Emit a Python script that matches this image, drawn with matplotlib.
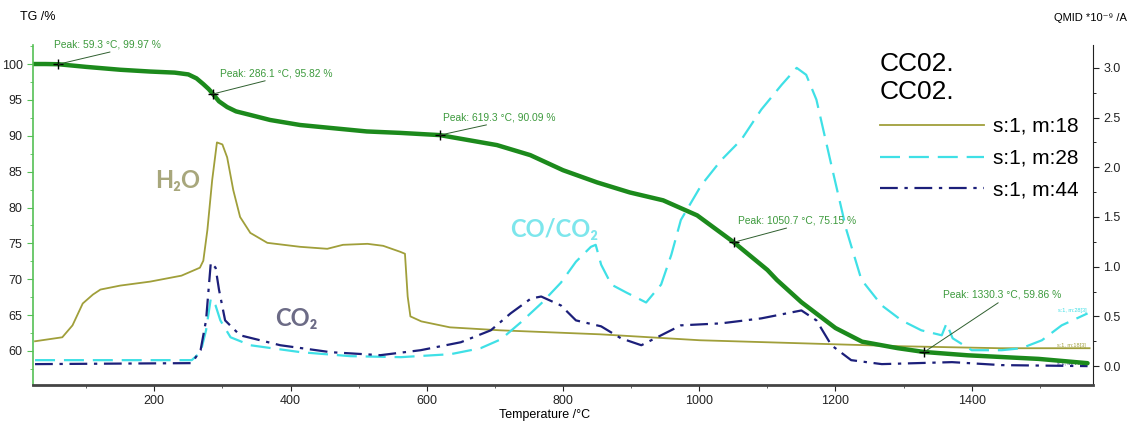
import matplotlib
matplotlib.use("Agg")
import matplotlib.pyplot as plt
from matplotlib.ticker import MultipleLocator

NARROW = ["Liberation Sans Narrow", "Liberation Sans", "DejaVu Sans"]
plt.rcParams["font.family"] = NARROW

# ---- data -------------------------------------------------------------
# TG curve (left axis, %)
tg_T = [22, 40, 59.3, 100, 150, 194, 230, 250, 262, 272, 280, 286.1, 295, 307, 320, 341, 370,
        414, 512, 561, 619.3, 703, 752, 800, 850, 898, 947, 997, 1050.7, 1100, 1114, 1150,
        1200, 1239, 1291, 1330.3, 1394, 1498, 1570]
tg = [100.0, 100.0, 99.97, 99.6, 99.2, 98.95, 98.8, 98.55, 98.0, 97.2, 96.5, 95.82, 94.8, 94.0,
      93.4, 92.9, 92.2, 91.5, 90.6, 90.4, 90.09, 88.7, 87.3, 85.2, 83.5, 82.1, 81.0, 78.9, 75.15,
      71.3, 69.9, 66.8, 63.2, 61.3, 60.4, 59.86, 59.4, 58.9, 58.3]

peak_T = [59.3, 286.1, 619.3, 1050.7, 1330.3]
peak_tg = [99.97, 95.82, 90.09, 75.15, 59.86]

# QMID signals (right axis, 1e-9 A)
m18_T = [25, 45, 65, 80, 95, 110, 121, 150, 194, 240, 267, 272, 278, 285, 292, 300, 307, 316,
         326, 341, 366, 414, 454, 477, 513, 536, 561, 568, 572, 576, 592, 634, 708, 854, 1001,
         1148, 1295, 1441, 1573]
m18 = [0.25, 0.27, 0.29, 0.41, 0.63, 0.72, 0.77, 0.81, 0.85, 0.91, 0.99, 1.06, 1.37, 1.87, 2.25,
       2.23, 2.10, 1.77, 1.50, 1.34, 1.24, 1.20, 1.18, 1.22, 1.23, 1.21, 1.15, 1.13, 0.70, 0.50,
       0.45, 0.39, 0.36, 0.32, 0.26, 0.23, 0.20, 0.18, 0.18]

m28_T = [25, 255, 268, 276, 283, 290, 297, 312, 341, 415, 488, 562, 635, 679, 709, 738, 768, 797,
         819, 841, 848, 856, 871, 893, 922, 944, 959, 973, 1003, 1032, 1062, 1091, 1121, 1143,
         1157, 1172, 1194, 1216, 1238, 1268, 1297, 1326, 1356, 1363, 1372, 1400, 1444, 1473,
         1503, 1532, 1570]
m28 = [0.06, 0.06, 0.14, 0.36, 0.68, 0.61, 0.46, 0.29, 0.21, 0.14, 0.10, 0.09, 0.12, 0.18, 0.27,
       0.44, 0.63, 0.84, 1.05, 1.20, 1.22, 1.02, 0.82, 0.74, 0.64, 0.82, 1.12, 1.47, 1.82, 2.07,
       2.28, 2.58, 2.83, 3.00, 2.93, 2.68, 2.02, 1.37, 0.87, 0.61, 0.46, 0.36, 0.31, 0.43, 0.28,
       0.16, 0.16, 0.18, 0.26, 0.41, 0.53]

m44_T = [25, 255, 268, 276, 283, 290, 295, 304, 326, 385, 459, 532, 591, 650, 694, 723, 753, 768,
         797, 819, 856, 885, 915, 944, 973, 1032, 1091, 1150, 1172, 1194, 1223, 1268, 1371, 1444,
         1570]
m44 = [0.02, 0.03, 0.16, 0.46, 1.04, 0.99, 0.77, 0.46, 0.31, 0.21, 0.14, 0.11, 0.16, 0.24, 0.36,
       0.53, 0.68, 0.70, 0.61, 0.46, 0.40, 0.28, 0.21, 0.31, 0.41, 0.43, 0.48, 0.56, 0.46, 0.21,
       0.06, 0.02, 0.04, 0.01, 0.0]

series_labels = ["s:1, m:18", "s:1, m:28", "s:1, m:44"]

# ---- figure -----------------------------------------------------------
fig = plt.figure(figsize=(11.31, 4.21), dpi=100)
ax = fig.add_axes([33 / 1131, 36 / 421, 1060 / 1131, 340 / 421])
ax2 = ax.twinx()
ax.set_zorder(ax2.get_zorder() + 1)
ax.patch.set_visible(False)

c18, c28, c44, ctg = "#a09f3a", "#3fe0e6", "#1c1f7a", "#1c8a1c"
l18, = ax2.plot(m18_T, m18, color=c18, lw=1.3)
l28, = ax2.plot(m28_T, m28, color=c28, lw=1.6, ls=(0, (9, 4)))
l44, = ax2.plot(m44_T, m44, color=c44, lw=1.6, ls=(0, (8, 3, 1.5, 3)))

ax.plot(tg_T, tg, color=ctg, lw=3.2, solid_capstyle="round", solid_joinstyle="round")
ax.plot(peak_T, peak_tg, "+", color="k", ms=7, mew=1.0)

# peak annotations: (dx, dy) in pixels from the marker, relpos of line on text
offsets = [(-4, 15, 0.63), (7, 16, 0.5), (3, 13, 0.5), (4, 17, 0.5), (19, 52, 0.5)]
for T, v, (dx, dy, rp) in zip(peak_T, peak_tg, offsets):
    ax.annotate("Peak: %.1f °C, %.2f %%" % (T, v), xy=(T, v), xytext=(dx, dy),
                textcoords="offset pixels", ha="left", va="bottom", fontsize=7.4,
                color="#3d9a3d",
                arrowprops=dict(arrowstyle="-", color="#2f5f2f", lw=0.7,
                                relpos=(rp, 0), shrinkA=0, shrinkB=0))

# axes ranges / ticks
ax.set_xlim(22, 1578)
ax.set_ylim(55.26, 102.65)
ax2.set_ylim(-0.19, 3.23)
ax.set_xticks([200, 400, 600, 800, 1000, 1200, 1400])
ax.xaxis.set_minor_locator(MultipleLocator(100))
ax.set_yticks([60, 65, 70, 75, 80, 85, 90, 95, 100])
ax.yaxis.set_minor_locator(MultipleLocator(2.5))
ax2.set_yticks([0.0, 0.5, 1.0, 1.5, 2.0, 2.5, 3.0])
ax2.yaxis.set_minor_locator(MultipleLocator(0.25))
ax2.set_yticklabels(["0.0", "0.5", "1.0", "1.5", "2.0", "2.5", "3.0"])

for a in (ax, ax2):
    a.spines["top"].set_visible(False)
ax.spines["left"].set_color("#55c055")
ax.spines["left"].set_linewidth(1.2)
ax2.spines["left"].set_visible(False)
ax.spines["right"].set_visible(False)
ax2.spines["right"].set_color("#222222")
ax2.spines["bottom"].set_visible(False)
ax.spines["bottom"].set_color("#444444")
ax.spines["bottom"].set_linewidth(2)

ax.tick_params(axis="both", which="major", labelsize=9, colors="#222222", length=4, width=0.8)
ax.tick_params(axis="both", which="minor", length=2, width=0.6, colors="#444444")
ax.tick_params(axis="y", which="both", colors="#55c055", labelcolor="#222222")
ax2.tick_params(axis="y", which="major", labelsize=9, length=4, width=0.8, colors="#222222")
ax2.tick_params(axis="y", which="minor", length=2, width=0.6)

ax.set_xlabel("Temperature /°C", fontsize=9)
ax.xaxis.set_label_coords(0.483, -0.07)
fig.text(20 / 1131, 1 - 17 / 421, "TG /%", fontsize=9, va="center", ha="left")
fig.text(1127 / 1131, 1 - 18 / 421, "QMID *10⁻⁹ /A", fontsize=8, va="center", ha="right")

# species labels
lab_font = ["Lato", "DejaVu Sans"]
ax2.text(201, 1.87, "H₂O", color="#a8a77c", fontsize=17, fontweight="bold",
         family=lab_font, va="center")
ax2.text(378, 0.48, "CO₂", color="#6c6b86", fontsize=17, fontweight="bold",
         family=lab_font, va="center")
ax2.text(722, 1.37, "CO/CO₂", color="#7de6ec", fontsize=17, fontweight="bold",
         family=lab_font, va="center")

# tiny trace labels at the right end
for lbl, col, v in zip(series_labels, [c18, c28, c44], [m18[-1], m28[-1], m44[-1]]):
    ax2.text(1568, v, lbl + "[3]", color=col, fontsize=4, ha="right", va="bottom", zorder=5)

leg = ax2.legend([l18, l28, l44], series_labels, title="CC02.\nCC02.",
                 loc="upper left", bbox_to_anchor=(0.797, 0.985), frameon=False,
                 fontsize=15, title_fontsize=19, alignment="left",
                 handlelength=5.0, handletextpad=0.45, labelspacing=0.62,
                 borderpad=0.1, borderaxespad=0.0)

fig.savefig("out.png", dpi=100)
